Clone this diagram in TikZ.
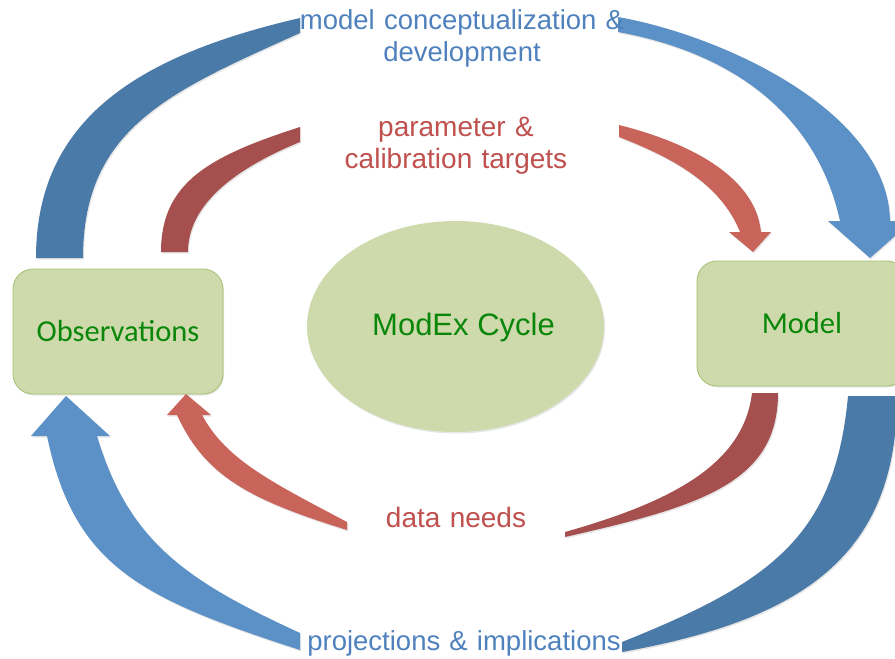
\documentclass[tikz,border=0pt]{standalone}
\usepackage{fontspec}
\setmainfont{Liberation Sans}
\newfontfamily\calib{Carlito}
\usetikzlibrary{shapes.geometric,shadows}
\definecolor{blueD}{RGB}{74,122,168}
\definecolor{blueL}{RGB}{91,145,198}
\definecolor{redD}{RGB}{165,80,78}
\definecolor{redL}{RGB}{201,100,91}
\definecolor{txtblue}{RGB}{79,129,189}
\definecolor{txtred}{RGB}{192,80,77}
\definecolor{boxfill}{RGB}{206,218,172}
\definecolor{boxline}{RGB}{165,192,110}
\definecolor{txtgreen}{RGB}{10,135,10}
\begin{document}
\begin{tikzpicture}[x=1pt,y=-1pt,
  sh/.style={drop shadow={shadow xshift=1pt,shadow yshift=-1.5pt,opacity=0.2}},
  box/.style={draw=boxline,line width=0.8pt,fill=boxfill,rounded corners=20pt,
    minimum width=210pt,minimum height=125pt,inner sep=0pt,sh,
    font=\calib\fontsize{30.5}{36}\selectfont,text=txtgreen},
  lblB/.style={font=\fontsize{27.5}{32.5}\selectfont,text width=340pt,align=center,inner sep=0pt,text=txtblue,anchor=base},
  lblR/.style={font=\fontsize{28}{32.5}\selectfont,text width=340pt,align=center,inner sep=0pt,text=txtred,anchor=base}]
\useasboundingbox (0,0) rectangle (895,659);

% central ellipse and boxes
\node[ellipse,fill=boxfill,minimum width=297pt,minimum height=211pt,inner sep=0pt,sh] (cyc) at (455.5,326.5) {};
\node[font=\fontsize{31}{36}\selectfont,text=txtgreen,anchor=base] (cyct) at (463.5,335) {ModEx Cycle};
\node[box] (obs) at (118,331.5) {Observations};
\node[box] (model) at (802,323.5) {Model};

% top blue arrow
\fill[blueD,sh] (36,258) .. controls (36,118) and (140,55) .. (300,18) -- (300,33)
  .. controls (170,91.5) and (83,128) .. (83,258) -- cycle;
\fill[blueL,sh] (618,17) .. controls (720,35) and (888,110) .. (890,221) -- (912,221) -- (870,258)
  -- (828,221) -- (840,221) .. controls (816,111) and (728,52) .. (618,32) -- cycle;

% top red arrow
\fill[redD,sh] (161,252) .. controls (161,182) and (210,156) .. (300,127) -- (300,142)
  .. controls (240,166.6) and (188,202) .. (188,252) -- cycle;
\fill[redL,sh] (619,125) .. controls (679,140) and (755,172) .. (761,232) -- (771,232) -- (753,252)
  -- (729,232) -- (740,232) .. controls (720,182) and (669,156.5) .. (619,137) -- cycle;

% bottom red arrow
\fill[redD,sh] (752,393) -- (778,393) .. controls (778,483) and (700,506.4) .. (565,537) -- (565,532)
  .. controls (675,500.9) and (743.6,463) .. (752,393) -- cycle;
\fill[redL,sh] (347,530) .. controls (247,499) and (204.6,475) .. (177,415) -- (167,415) -- (186,394)
  -- (211,415) -- (202,415) .. controls (226.3,460) and (272,482.25) .. (347,522) -- cycle;

% bottom blue arrow
\fill[blueD,sh] (848,396) -- (897,396) .. controls (897,556) and (802,619.6) .. (622,652) -- (622,642)
  .. controls (772,582) and (835,536) .. (848,396) -- cycle;
\fill[blueL,sh] (300,650) .. controls (140,598) and (74,566) .. (47,436) -- (31,436) -- (66,396)
  -- (110,436) -- (97,436) .. controls (128.5,541) and (185,580.1) .. (300,633) -- cycle;

% labels
\node[lblB] (mcd) at (462,29) {model conceptualization \&\\development};
\node[lblR] (pct) at (456,136) {parameter \&\\calibration targets};
\node[lblR] (dn) at (456,527) {data needs};
\node[lblB] (pi) at (464,650) {projections \& implications};
\end{tikzpicture}
\end{document}
